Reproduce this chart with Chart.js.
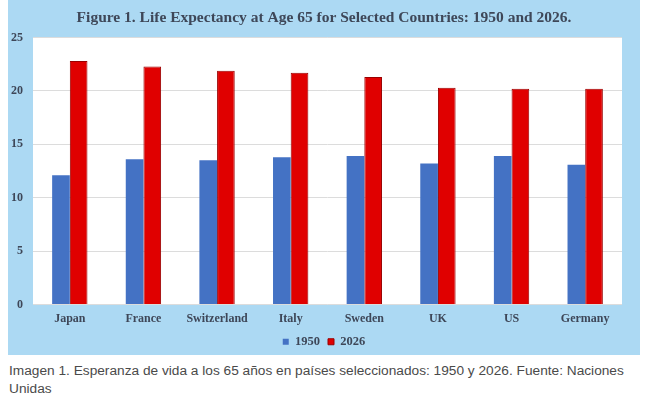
<!DOCTYPE html>
<html>
<head>
<meta charset="utf-8">
<script src="https://cdn.jsdelivr.net/npm/chart.js@4.4.1/dist/chart.umd.min.js"></script>
<style>
    body { margin: 0; background: #fff; }
    #panel {
        position: absolute; left: 8px; top: 0; width: 632px; height: 355px;
        background: #acd9f3;
    }
    #caption {
        position: absolute; left: 9px; top: 362px; width: 632px;
        font-family: 'Liberation Sans', Arial, sans-serif; font-size: 13.7px;
        line-height: 18px; color: #4a4a4a;
    }
</style>
</head>
<body>
<div id="panel"><canvas id="chart" width="632" height="355"></canvas></div>
<div id="caption">Imagen 1. Esperanza de vida a los 65 años en países seleccionados: 1950 y 2026. Fuente: Naciones Unidas</div>
<script>
// ── Data ──
const countries = ['Japan', 'France', 'Switzerland', 'Italy', 'Sweden', 'UK', 'US', 'Germany'];
const le1950 = [12.1, 13.6, 13.5, 13.8, 13.9, 13.2, 13.9, 13.1];
const le2026 = [22.8, 22.3, 21.9, 21.7, 21.3, 20.3, 20.2, 20.2];
const yTicks = [0, 5, 10, 15, 20, 25];

const serif = "'Liberation Serif', 'Times New Roman', serif";
const textColor = '#3e4758';

// white plot background
const plotBg = {
    id: 'plotBg',
    beforeDraw(chart) {
        const { ctx, chartArea: a } = chart;
        ctx.save();
        ctx.fillStyle = '#ffffff';
        ctx.fillRect(a.left, a.top, a.right - a.left, a.bottom - a.top);
        ctx.restore();
    }
};

new Chart(document.getElementById('chart'), {
    type: 'bar',
    data: {
        labels: countries,
        datasets: [
            {
                label: '1950',
                data: le1950,
                backgroundColor: '#4472c4',
                borderWidth: 0,
            },
            {
                label: '2026',
                data: le2026,
                backgroundColor: '#e00000',
                borderColor: '#9a0000',
                borderWidth: 1,
            },
        ]
    },
    options: {
        responsive: false,
        animation: false,
        devicePixelRatio: 1,
        layout: { padding: { left: 0, right: 0, top: 0, bottom: -3 } },
        datasets: { bar: { categoryPercentage: 0.48, barPercentage: 1 } },
        plugins: {
            title: {
                display: true,
                text: 'Figure 1. Life Expectancy at Age 65 for Selected Countries: 1950 and 2026.',
                color: textColor,
                font: { family: serif, size: 15.5, weight: 'bold' },
                padding: { top: 9, bottom: 10 },
            },
            legend: {
                display: true,
                position: 'bottom',
                labels: {
                    color: textColor,
                    font: { family: serif, size: 12.5, weight: 'bold' },
                    boxWidth: 6,
                    boxHeight: 6,
                    padding: 8,
                },
            },
            tooltip: { enabled: false },
        },
        scales: {
            x: {
                afterFit(scale) { scale.height = 23; },
                grid: { display: false },
                border: { display: false },
                ticks: {
                    color: textColor,
                    font: { family: serif, size: 12, weight: 'bold' },
                    padding: -1,
                    maxRotation: 0,
                },
            },
            y: {
                min: 0,
                max: 25,
                afterFit(scale) { scale.width = 25; },
                afterBuildTicks(scale) { scale.ticks = yTicks.map(v => ({ value: v })); },
                grid: { color: '#dcdcdc', drawTicks: false },
                border: { display: false },
                ticks: {
                    color: textColor,
                    font: { family: serif, size: 12, weight: 'bold' },
                    padding: 10,
                },
            },
            // empty right-hand strip so the title stays centred on the panel
            yRight: {
                position: 'right',
                afterFit(scale) { scale.width = 18; },
                grid: { display: false },
                border: { display: false },
                ticks: { display: false },
            },
        },
    },
    plugins: [plotBg],
});
</script>
</body>
</html>
